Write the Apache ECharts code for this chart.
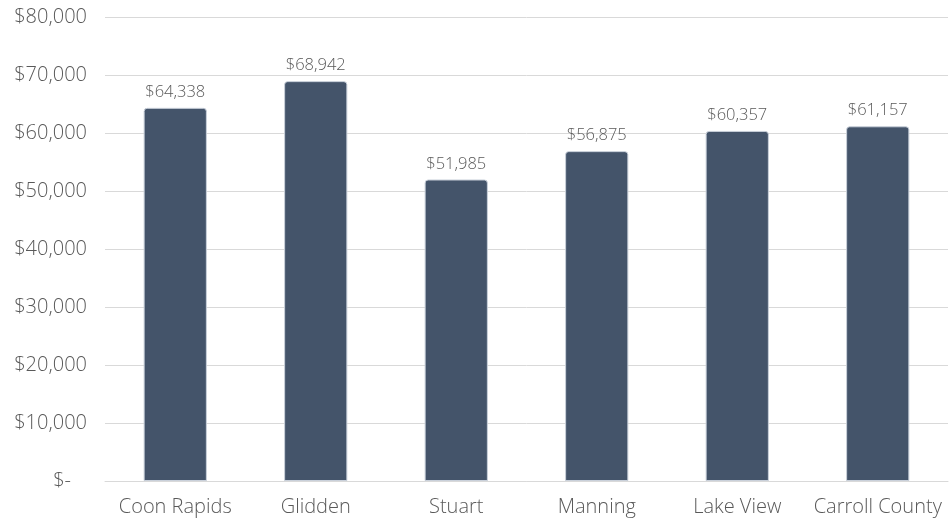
<!DOCTYPE html>
<html>
<head>
<meta charset="utf-8">
<script src="https://cdn.jsdelivr.net/npm/echarts@6/dist/echarts.min.js"></script>
<style>
  html, body { margin: 0; padding: 0; background: #ffffff; }
  #chart { width: 952px; height: 521px; }
</style>
</head>
<body>
<div id="chart"></div>
<script>
// Median household income by place
const places = ['Coon Rapids', 'Glidden', 'Stuart', 'Manning', 'Lake View', 'Carroll County'];
const incomes = [64338, 68942, 51985, 56875, 60357, 61157];
const yTicks = { min: 0, max: 80000, interval: 10000 };

const money = v => '$' + v.toLocaleString('en-US');
const FONT = '"Open Sans", Lato, sans-serif';

const chart = echarts.init(document.getElementById('chart'));
chart.setOption({
  animation: false,
  textStyle: { fontFamily: FONT, fontWeight: 300 },
  grid: { left: 105, right: 4, top: 17, bottom: 40 },
  xAxis: {
    type: 'category',
    data: places,
    axisLine: { show: true, lineStyle: { color: '#d9d9d9', width: 1 } },
    axisTick: { show: false },
    axisLabel: { color: '#595959', fontFamily: FONT, fontWeight: 300, fontSize: 20, margin: 16, interval: 0 }
  },
  yAxis: {
    type: 'value',
    min: yTicks.min,
    max: yTicks.max,
    interval: yTicks.interval,
    axisLine: { show: false },
    axisTick: { show: false },
    splitLine: { lineStyle: { color: '#d9d9d9', width: 1 } },
    axisLabel: {
      color: '#595959',
      fontFamily: FONT,
      fontWeight: 300,
      fontSize: 20,
      margin: 18,
      formatter: v => v === 0 ? '{z|$-}' : money(v),
      rich: { z: { color: '#595959', fontFamily: FONT, fontWeight: 300, fontSize: 20, padding: [0, 16, 0, 0] } }
    }
  },
  series: [{
    type: 'bar',
    data: incomes,
    barWidth: '45%',
    itemStyle: {
      color: '#44546a',
      borderColor: '#c9d0da',
      borderWidth: 1,
      borderRadius: [3, 3, 0, 0]
    },
    label: {
      show: true,
      position: 'top',
      distance: 7,
      color: '#595959',
      fontFamily: FONT,
      fontWeight: 300,
      fontSize: 16.5,
      formatter: p => money(p.value)
    }
  }]
});
</script>
</body>
</html>
